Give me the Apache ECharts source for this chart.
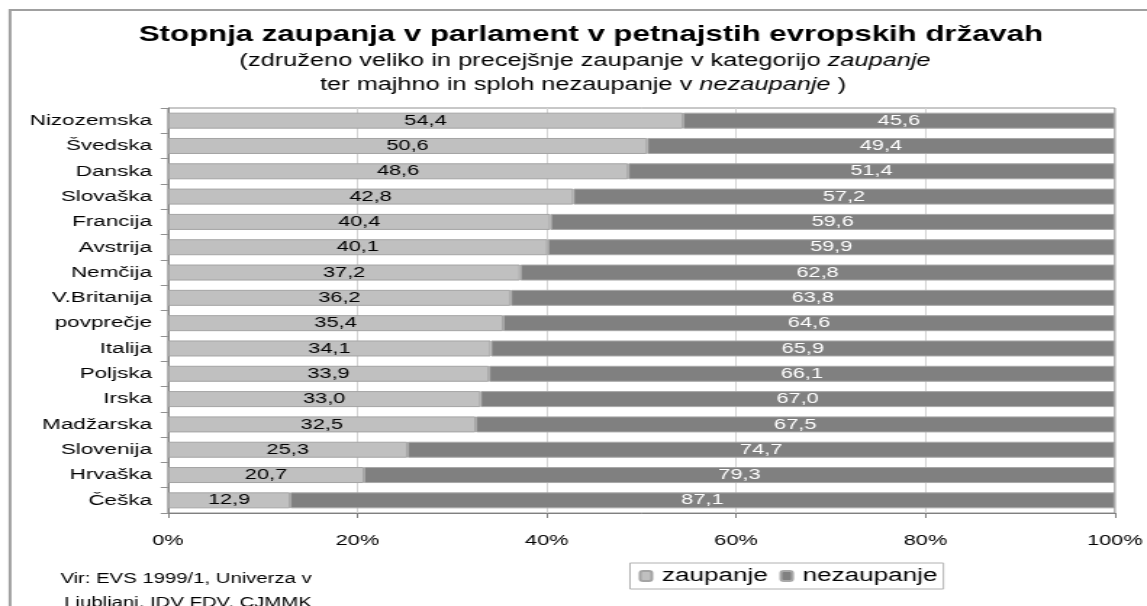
<!DOCTYPE html>
<html lang="sl">
<head>
<meta charset="utf-8">
<script src="https://cdn.jsdelivr.net/npm/echarts@6/dist/echarts.min.js"></script>
<title></title>
<style>
    body {margin: 0; background: #fff; overflow: hidden;}
    /* the original picture is stretched sideways, so draw narrow and widen it */
    #main {transform: scaleX(1.45); transform-origin: 0 0;}
</style>
</head>
<body>
<div id="main" style="width:791px;height:606px;"></div>
<script type="text/javascript">
var drzave = ['Nizozemska', 'Švedska', 'Danska', 'Slovaška', 'Francija', 'Avstrija', 'Nemčija',
    'V.Britanija', 'povprečje', 'Italija', 'Poljska', 'Irska', 'Madžarska', 'Slovenija', 'Hrvaška', 'Češka'];
var zaupanje = [54.4, 50.6, 48.6, 42.8, 40.4, 40.1, 37.2, 36.2, 35.4, 34.1, 33.9, 33.0, 32.5, 25.3, 20.7, 12.9];
var nezaupanje = [45.6, 49.4, 51.4, 57.2, 59.6, 59.9, 62.8, 63.8, 64.6, 65.9, 66.1, 67.0, 67.5, 74.7, 79.3, 87.1];

var S = 1.45;          // horizontal stretch
var W = 791;           // chart width before stretch
function px(x) { return x / S; }   // picture x -> chart x

var font = 'Liberation Sans, Arial, sans-serif';
var myChart = echarts.init(document.getElementById('main'));

function fmt(p) {
    return p.value.toFixed(1).replace('.', ',');
}

var rich = {
    n: {fontFamily: font, fontSize: 17.5, color: '#000'},
    i: {fontFamily: font, fontSize: 17.5, fontStyle: 'italic', color: '#000'}
};

var option = {
    backgroundColor: '#fff',
    textStyle: {fontFamily: font},
    graphic: [
        {type: 'rect', shape: {x: px(10), y: 10, width: 1000, height: 700},
            style: {fill: 'none', stroke: '#a0a0a0', lineWidth: 2}, silent: true},
        {type: 'text', x: px(591), y: 35,
            style: {text: 'Stopnja zaupanja v parlament v petnajstih evropskih državah',
                font: 'bold 21.5px Liberation Sans, Arial', fill: '#000', align: 'center', verticalAlign: 'middle'}},
        {type: 'text', x: px(585), y: 61,
            style: {text: '{n|(združeno veliko in precejšnje zaupanje v kategorijo }{i|zaupanje}',
                rich: rich, align: 'center', verticalAlign: 'middle'}},
        {type: 'text', x: px(583), y: 85,
            style: {text: '{n|ter majhno in sploh nezaupanje v }{i|nezaupanje}{n| )}',
                rich: rich, align: 'center', verticalAlign: 'middle'}},
        {type: 'text', x: px(186), y: 579,
            style: {text: 'Vir: EVS 1999/1, Univerza v', font: '14px Liberation Sans, Arial', fill: '#000',
                align: 'center', verticalAlign: 'middle'}},
        {type: 'text', x: px(188), y: 603,
            style: {text: 'Ljubljani, IDV FDV, CJMMK', font: '14px Liberation Sans, Arial', fill: '#000',
                align: 'center', verticalAlign: 'middle'}}
    ],
    grid: {left: px(168), right: W - px(1116), top: 108, bottom: 93,
        show: true, borderColor: '#909090', borderWidth: 1},
    legend: {
        left: px(630), top: 563,
        itemWidth: 8, itemHeight: 10, itemGap: 8,
        padding: [4, 4, 4, 6],
        borderColor: '#b0b0b0', borderWidth: 1,
        textStyle: {fontSize: 18, color: '#000', fontFamily: font, padding: [0, 0, 0, 2]},
        data: ['zaupanje', 'nezaupanje']
    },
    xAxis: {
        type: 'value', min: 0, max: 100, interval: 20,
        axisLabel: {formatter: '{value}%', fontSize: 15, color: '#000', margin: 20, fontFamily: font},
        axisLine: {show: true, lineStyle: {color: '#808080'}},
        axisTick: {show: true, length: 5, lineStyle: {color: '#808080'}},
        splitLine: {show: true, lineStyle: {color: '#d4d4d4'}}
    },
    yAxis: {
        type: 'category', inverse: true, data: drzave,
        axisLabel: {fontSize: 15.5, color: '#000', margin: 11, fontFamily: font},
        axisLine: {show: true, lineStyle: {color: '#808080'}},
        axisTick: {show: true, length: 5, lineStyle: {color: '#909090'}}
    },
    series: [
        {
            name: 'zaupanje', type: 'bar', stack: 'a', barWidth: 16,
            data: zaupanje,
            itemStyle: {color: '#c0c0c0', borderColor: '#a4a4a4', borderWidth: 1},
            label: {show: true, position: 'inside', formatter: fmt, color: '#000', fontSize: 15, fontFamily: font}
        },
        {
            name: 'nezaupanje', type: 'bar', stack: 'a', barWidth: 16,
            data: nezaupanje,
            itemStyle: {color: '#808080', borderColor: '#a8a8a8', borderWidth: 1},
            label: {show: true, position: 'inside', formatter: fmt, color: '#fff', fontSize: 15, fontFamily: font}
        }
    ]
};
myChart.setOption(option);
</script>
</body>
</html>
